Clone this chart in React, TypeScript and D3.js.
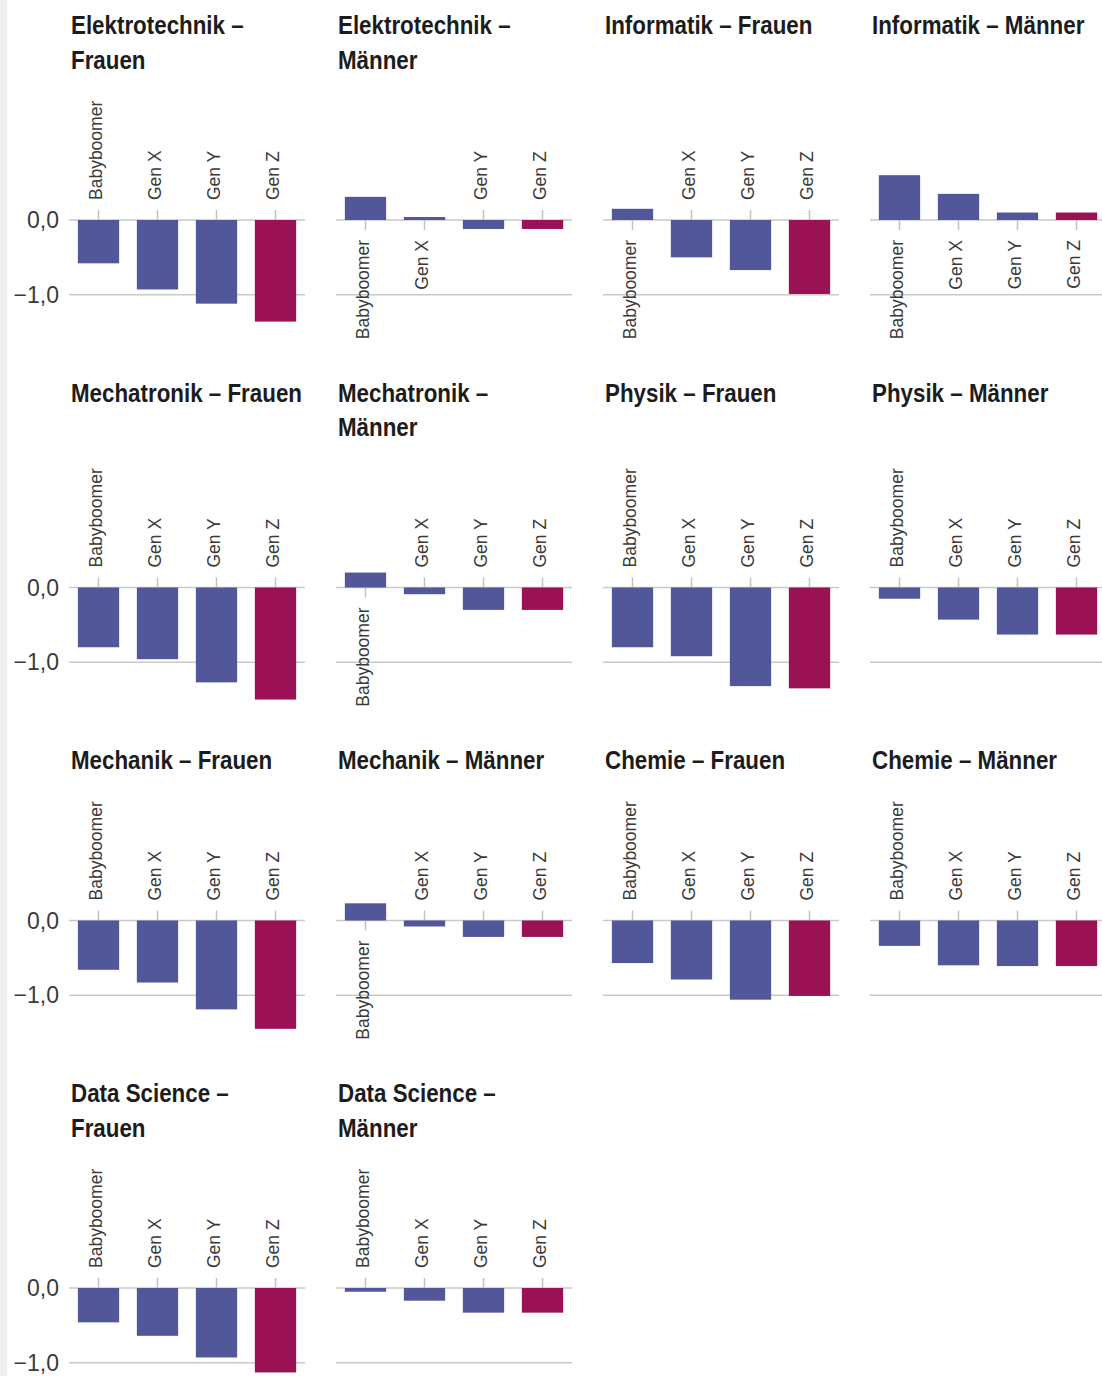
import React, { useEffect, useRef } from 'react';
import * as d3 from 'd3';

const generations = ['Babyboomer', 'Gen X', 'Gen Y', 'Gen Z'];
const gridValues = [0, -1];
const gridLabels = ['0,0', '\u22121,0'];

const titles = [
  ['Elektrotechnik –', 'Frauen'],
  ['Elektrotechnik –', 'Männer'],
  ['Informatik – Frauen'],
  ['Informatik – Männer'],
  ['Mechatronik – Frauen'],
  ['Mechatronik –', 'Männer'],
  ['Physik – Frauen'],
  ['Physik – Männer'],
  ['Mechanik – Frauen'],
  ['Mechanik – Männer'],
  ['Chemie – Frauen'],
  ['Chemie – Männer'],
  ['Data Science –', 'Frauen'],
  ['Data Science –', 'Männer'],
];

const elektrotechnikFrauen = [-0.58, -0.93, -1.12, -1.36];
const elektrotechnikMaenner = [0.31, 0.04, -0.12, -0.12];
const informatikFrauen = [0.15, -0.5, -0.67, -0.99];
const informatikMaenner = [0.6, 0.35, 0.1, 0.1];
const mechatronikFrauen = [-0.8, -0.96, -1.27, -1.5];
const mechatronikMaenner = [0.2, -0.09, -0.3, -0.3];
const physikFrauen = [-0.8, -0.92, -1.32, -1.35];
const physikMaenner = [-0.15, -0.43, -0.63, -0.63];
const mechanikFrauen = [-0.66, -0.83, -1.19, -1.45];
const mechanikMaenner = [0.23, -0.08, -0.22, -0.22];
const chemieFrauen = [-0.57, -0.79, -1.06, -1.01];
const chemieMaenner = [-0.34, -0.6, -0.61, -0.61];
const dataScienceFrauen = [-0.46, -0.64, -0.93, -1.13];
const dataScienceMaenner = [-0.05, -0.17, -0.33, -0.33];

const panelValues = [
  elektrotechnikFrauen, elektrotechnikMaenner, informatikFrauen, informatikMaenner,
  mechatronikFrauen, mechatronikMaenner, physikFrauen, physikMaenner,
  mechanikFrauen, mechanikMaenner, chemieFrauen, chemieMaenner,
  dataScienceFrauen, dataScienceMaenner,
];

const BLUE = '#52579a';
const CRIMSON = '#9a1253';
const FONT = '"Liberation Sans", Arial, sans-serif';

export default function App() {
  const svgRef = useRef<SVGSVGElement>(null);

  useEffect(() => {
    if (!svgRef.current) return;
    const svg = d3.select(svgRef.current);
    svg.selectAll('*').remove();

    const height = 1376;
    const cols = 4;
    const colStep = 267;
    const left = 69;
    const panelW = 236;
    const lineH = 34.5;
    const unit = 74.7;

    svg.append('rect').attr('x', 0).attr('y', 0).attr('width', 7).attr('height', height).attr('fill', '#efefef');

    const x = d3.scaleBand<string>()
      .domain(generations)
      .range([0, panelW])
      .paddingInner(0.3)
      .paddingOuter(0.15);

    let baseline = 34.5;
    const nRows = Math.ceil(titles.length / cols);

    for (let r = 0; r < nRows; r++) {
      const idx = d3.range(r * cols, Math.min(titles.length, (r + 1) * cols));
      const nLines = d3.max(idx, i => titles[i].length) || 1;
      const zeroY = baseline + (nLines - 1) * lineH + 151;
      const y = d3.scaleLinear().domain([0, -1]).range([zeroY, zeroY + unit]);

      idx.forEach((pi, c) => {
        const g = svg.append('g').attr('transform', `translate(${left + c * colStep},0)`);

        // title (condensed look via horizontal scaling)
        g.append('text')
          .attr('transform', 'translate(2,0) scale(0.86,1)')
          .attr('font-family', FONT)
          .attr('font-weight', 'bold')
          .attr('font-size', 26)
          .attr('fill', '#1c1c1c')
          .selectAll('tspan')
          .data(titles[pi])
          .enter()
          .append('tspan')
          .attr('x', 0)
          .attr('y', (_, i) => baseline + i * lineH)
          .text(d => d);

        // grid lines
        g.selectAll('.grid')
          .data(gridValues)
          .enter()
          .append('line')
          .attr('x1', 0)
          .attr('x2', panelW)
          .attr('y1', d => y(d))
          .attr('y2', d => y(d))
          .attr('stroke', '#c9c9c9')
          .attr('stroke-width', 1.5);

        if (c === 0) {
          g.selectAll('.ylab')
            .data(gridValues)
            .enter()
            .append('text')
            .attr('x', -10)
            .attr('y', d => y(d))
            .attr('dy', '0.36em')
            .attr('text-anchor', 'end')
            .attr('font-family', FONT)
            .attr('font-size', 23)
            .attr('fill', '#3a3a3a')
            .text((_, i) => gridLabels[i]);
        }

        const vals = panelValues[pi];

        // ticks
        g.selectAll('.tick')
          .data(generations)
          .enter()
          .append('line')
          .attr('x1', d => x(d)! + x.bandwidth() / 2)
          .attr('x2', d => x(d)! + x.bandwidth() / 2)
          .attr('y1', zeroY)
          .attr('y2', (_, i) => (vals[i] < 0 ? zeroY - 10 : zeroY + 10))
          .attr('stroke', '#c2c2c2')
          .attr('stroke-width', 1.5);

        // bars
        g.selectAll('.bar')
          .data(generations)
          .enter()
          .append('rect')
          .attr('x', d => x(d)!)
          .attr('width', x.bandwidth())
          .attr('y', (_, i) => Math.min(y(vals[i]), y(0)))
          .attr('height', (_, i) => Math.abs(y(vals[i]) - y(0)))
          .attr('fill', (_, i) => (i === 3 ? CRIMSON : BLUE));

        // category labels
        g.selectAll('.cat')
          .data(generations)
          .enter()
          .append('text')
          .attr('transform', (d, i) => {
            const cx = x(d)! + x.bandwidth() / 2;
            const cy = vals[i] < 0 ? zeroY - 20 : zeroY + 20;
            return `translate(${cx},${cy}) rotate(-90)`;
          })
          .attr('dy', '0.2em')
          .attr('text-anchor', (_, i) => (vals[i] < 0 ? 'start' : 'end'))
          .attr('font-family', FONT)
          .attr('font-size', 17.5)
          .attr('fill', '#3a3a3a')
          .text(d => d);
      });

      baseline = zeroY + 182;
    }
  }, []);

  return (
    <svg
      ref={svgRef}
      width={1102}
      height={1376}
      style={{ position: 'absolute', left: 0, top: 0, display: 'block', background: '#ffffff' }}
    />
  );
}
